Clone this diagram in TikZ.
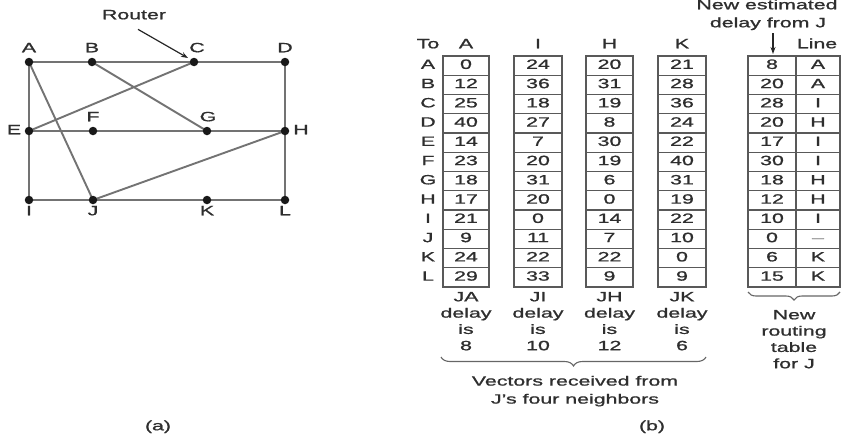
\documentclass[tikz,border=0pt]{standalone}
\usepackage{fontspec}
\usepackage{graphicx}
\setmainfont[FakeBold=0.9]{Liberation Sans}
\usetikzlibrary{decorations.pathreplacing,arrows.meta}
\pgfdeclarelayer{bg}
\pgfsetlayers{bg,main}
\newcommand{\wtxt}[1]{\scalebox{1.58}[1]{\begin{tabular}{@{}c@{}}#1\end{tabular}}}
\begin{document}
\begin{tikzpicture}[x=1pt,y=-1pt,
  lbl/.style={font=\fontsize{13.5}{16.3}\selectfont, inner sep=0pt, text=black!82},
  edge/.style={draw=black!55, line width=1.9pt},
  dot/.style={circle, fill=black!90, inner sep=0pt, minimum size=8.5pt},
  cell/.style={draw=black!65, line width=1.2pt, minimum height=19.25pt, inner sep=0pt,
    font=\fontsize{13.5}{16.3}\selectfont, text=black!82},
  brc/.style={draw=black!60, line width=1.1pt, decorate, decoration={brace,mirror,amplitude=9pt}},
  arr/.style={draw=black!85, line width=1.2pt, -{Stealth[length=7pt,width=5pt]}}
]
\useasboundingbox (0,0) rectangle (845,439);
% ---------- (a) graph ----------
\node[dot] (A) at (29,62) {};
\node[dot] (B) at (92,62) {};
\node[dot] (C) at (194,62) {};
\node[dot] (D) at (285,62) {};
\node[dot] (E) at (29,131) {};
\node[dot] (F) at (93,131) {};
\node[dot] (G) at (207,131) {};
\node[dot] (H) at (285,131) {};
\node[dot] (I) at (29,200) {};
\node[dot] (J) at (93,200) {};
\node[dot] (K) at (207,200) {};
\node[dot] (L) at (285,200) {};
\begin{pgfonlayer}{bg}
\draw[edge] (A.center) -- (B.center) -- (C.center) -- (D.center);
\draw[edge] (E.center) -- (F.center) -- (G.center) -- (H.center);
\draw[edge] (I.center) -- (J.center) -- (K.center) -- (L.center);
\draw[edge] (A.center) -- (E.center) -- (I.center);
\draw[edge] (D.center) -- (H.center) -- (L.center);
\draw[edge] (A.center) -- (J.center);
\draw[edge] (B.center) -- (G.center);
\draw[edge] (C.center) -- (E.center);
\draw[edge] (J.center) -- (H.center);
\end{pgfonlayer}
\node[lbl] (lA) at (29,49) {\wtxt{A}};
\node[lbl] (lB) at (92,49) {\wtxt{B}};
\node[lbl] (lC) at (197,49) {\wtxt{C}};
\node[lbl] (lD) at (285,49) {\wtxt{D}};
\node[lbl] (lE) at (14,131) {\wtxt{E}};
\node[lbl] (lF) at (93,118) {\wtxt{F}};
\node[lbl] (lG) at (208,118) {\wtxt{G}};
\node[lbl] (lH) at (301,131) {\wtxt{H}};
\node[lbl] (lI) at (29,212) {\wtxt{I}};
\node[lbl] (lJ) at (93,212) {\wtxt{J}};
\node[lbl] (lK) at (207,212) {\wtxt{K}};
\node[lbl] (lL) at (285,212) {\wtxt{L}};
\node[lbl] (router) at (134,16) {\wtxt{Router}};
\coordinate (rtip) at (188,58);
\draw[arr] (router.south) ++(4,5) -- (rtip);
\node[lbl] (capa) at (158,427) {\wtxt{(a)}};
% ---------- (b) tables ----------
\node[lbl] (To) at (428,45) {\wtxt{To}};
\foreach [count=\i] \r in {A,B,C,D,E,F,G,H,I,J,K,L}
  \node[lbl] (row\i) at (428,{56+19.25*(\i-0.5)}) {\wtxt{\r}};
\node[lbl] (hA) at (466,45) {\wtxt{A}};
\node[lbl] (hI) at (538,45) {\wtxt{I}};
\node[lbl] (hH) at (609.5,45) {\wtxt{H}};
\node[lbl] (hK) at (682,45) {\wtxt{K}};
\node[lbl] (hLine) at (817,45) {\wtxt{Line}};
\foreach [count=\i] \v in {0,12,25,40,14,23,18,17,21,9,24,29}
  \node[cell, minimum width=46pt] (cA\i) at (466,{56+19.25*(\i-0.5)}) {\wtxt{\v}};
\foreach [count=\i] \v in {24,36,18,27,7,20,31,20,0,11,22,33}
  \node[cell, minimum width=48pt] (cI\i) at (538,{56+19.25*(\i-0.5)}) {\wtxt{\v}};
\foreach [count=\i] \v in {20,31,19,8,30,19,6,0,14,7,22,9}
  \node[cell, minimum width=47pt] (cH\i) at (609.5,{56+19.25*(\i-0.5)}) {\wtxt{\v}};
\foreach [count=\i] \v in {21,28,36,24,22,40,31,19,22,10,0,9}
  \node[cell, minimum width=48pt] (cK\i) at (682,{56+19.25*(\i-0.5)}) {\wtxt{\v}};
\foreach [count=\i] \v in {8,20,28,20,17,30,18,12,10,0,6,15}
  \node[cell, minimum width=48pt] (cN\i) at (772,{56+19.25*(\i-0.5)}) {\wtxt{\v}};
\foreach [count=\i] \v in {A,A,I,H,I,I,H,H,I,{\textcolor{black!45}{--}},K,K}
  \node[cell, minimum width=44pt] (cL\i) at (818,{56+19.25*(\i-0.5)}) {\wtxt{\v}};
% header above new table
\node[lbl] (newest) at (767,6) {\wtxt{New estimated}};
\node[lbl] (delayJ) at (768,24) {\wtxt{delay from J}};
\coordinate (arrtop) at (773,33);
\coordinate (arrbot) at (773,54);
\draw[arr] (arrtop) -- (arrbot);
% labels below columns
\node[lbl] (dA) at (466,322.5) {\wtxt{JA\\delay\\is\\8}};
\node[lbl] (dI) at (538,322.5) {\wtxt{JI\\delay\\is\\10}};
\node[lbl] (dH) at (609.5,322.5) {\wtxt{JH\\delay\\is\\12}};
\node[lbl] (dK) at (682,322.5) {\wtxt{JK\\delay\\is\\6}};
\node[lbl] (newtab) at (794,340.5) {\wtxt{New\\routing\\table\\for J}};
% braces
\coordinate (b1l) at (441,357);
\coordinate (b1r) at (706,357);
\draw[brc] (b1l) -- (b1r);
\coordinate (b2l) at (748,292);
\coordinate (b2r) at (840,292);
\draw[brc, decoration={brace,mirror,amplitude=8pt}] (b2l) -- (b2r);
\node[lbl] (vec) at (575,391) {\fontsize{13.5}{18}\selectfont\wtxt{Vectors received from\\J's four neighbors}};
\node[lbl] (capb) at (652,427) {\wtxt{(b)}};
\end{tikzpicture}
\end{document}
